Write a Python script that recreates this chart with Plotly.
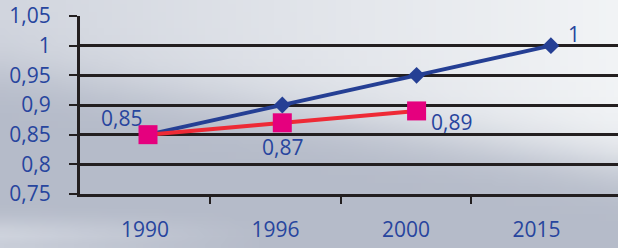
import struct, zlib, base64, math
import plotly.graph_objects as go

years = ["1990", "1996", "2000", "2015"]
blue_values = [0.85, 0.90, 0.95, 1.00]
red_years = ["1990", "1996", "2000"]
red_values = [0.85, 0.87, 0.89]
label_texts = ["0,85", "0,87", "0,89", "1"]
ytick_vals = [0.75, 0.80, 0.85, 0.90, 0.95, 1.00, 1.05]
ytick_text = ["0,75", "0,8", "0,85", "0,9", "0,95", "1", "1,05"]

W, H = 618, 248
L, R, T, B = 80, 0, 16, 54
PW, PH = W - L - R, H - T - B

BLUE_TXT = "#27459E"
BLUE_LINE = "#253F94"
RED_LINE = "#EE2A36"
MAGENTA = "#E5007E"
BLACK = "#231F20"


def background_uri(w=80, h=32):
    light_l = (210, 214, 223)
    light_r = (242, 244, 246)
    dark = (181, 187, 201)
    streak = (214, 218, 227)
    rows = []
    for j in range(h):
        v = (j + 0.5) / h
        row = bytearray()
        for i in range(w):
            u = (i + 0.5) / w
            lt = [a + (b - a) * u for a, b in zip(light_l, light_r)]
            boundary = 0.28 + 0.38 * u
            t = 1 / (1 + math.exp(-(v - boundary) / 0.06))
            c = [a + (b - a) * t for a, b in zip(lt, dark)]
            s = math.exp(-((v - 0.95) / 0.07) ** 2) * max(0.0, 1 - u / 0.45) * 0.8
            c = [a + (b - a) * s for a, b in zip(c, streak)]
            row += bytes(int(max(0, min(255, x))) for x in c)
        rows.append(b"\x00" + bytes(row))
    raw = b"".join(rows)

    def chunk(tag, data):
        return struct.pack(">I", len(data)) + tag + data + struct.pack(">I", zlib.crc32(tag + data) & 0xFFFFFFFF)

    png = (b"\x89PNG\r\n\x1a\n"
           + chunk(b"IHDR", struct.pack(">IIBBBBB", w, h, 8, 2, 0, 0, 0))
           + chunk(b"IDAT", zlib.compress(raw, 9))
           + chunk(b"IEND", b""))
    return "data:image/png;base64," + base64.b64encode(png).decode()


fig = go.Figure()
# empty helper trace so the labelled category axis (x) is rendered
fig.add_trace(go.Scatter(
    x=list(range(len(years))), y=[None] * len(years), xaxis="x", yaxis="y",
    mode="lines", hoverinfo="skip", showlegend=False,
))
fig.add_trace(go.Scatter(
    x=years, y=blue_values, mode="lines+markers", xaxis="x2", yaxis="y",
    line=dict(color=BLUE_LINE, width=4),
    marker=dict(symbol="diamond", size=13, color=BLUE_LINE),
    hoverinfo="skip", showlegend=False,
))
fig.add_trace(go.Scatter(
    x=red_years, y=red_values, mode="lines+markers", xaxis="x2", yaxis="y",
    line=dict(color=RED_LINE, width=4),
    marker=dict(symbol="square", size=19, color=MAGENTA),
    hoverinfo="skip", showlegend=False,
))

label_points = [("1990", 0.85, -27, 17), ("1996", 0.87, 0, -24),
                ("2000", 0.89, 35, -11), ("2015", 1.00, 23, 12)]
for (yr, val, dx, dy), txt in zip(label_points, label_texts):
    fig.add_annotation(x=years.index(yr), y=val, xref="x2", yref="y", text=txt,
                       showarrow=False, xshift=dx, yshift=dy,
                       font=dict(family="Open Sans", size=21, color=BLUE_TXT))

# label axis: category width ~130.5 px, first centre at 145 px
lab_scale = 130.5
lab_left = -(145 - L) / lab_scale
# data axis: category width ~134.3 px, first centre at 148 px
dat_scale = 134.3
dat_left = -(148 - L) / dat_scale

fig.update_layout(
    width=W, height=H,
    margin=dict(l=L, r=R, t=T, b=B, pad=0),
    paper_bgcolor="#C4C9D4", plot_bgcolor="rgba(0,0,0,0)",
    font=dict(family="Open Sans", size=21, color=BLUE_TXT),
    xaxis=dict(
        type="linear",
        range=[lab_left, lab_left + PW / lab_scale],
        tickmode="array", tickvals=list(range(len(years))), ticktext=years,
        ticks="", showgrid=False, zeroline=False,
        showline=True, linecolor=BLACK, linewidth=2.5,
        tickfont=dict(family="Open Sans", size=21, color=BLUE_TXT),
        ticklabelstandoff=15,
        minor=dict(tickmode="array", tickvals=[i + 0.5 for i in range(len(years) - 1)],
                   ticks="outside", ticklen=7, tickwidth=2, tickcolor=BLACK, showgrid=False),
        fixedrange=True,
    ),
    xaxis2=dict(
        type="category", overlaying="x", anchor="y", side="bottom",
        range=[dat_left, dat_left + PW / dat_scale],
        showticklabels=False, ticks="", showgrid=False, zeroline=False, showline=False,
        fixedrange=True,
    ),
    yaxis=dict(
        range=[0.75, 1.05], tickmode="array", tickvals=ytick_vals, ticktext=ytick_text,
        ticks="outside", ticklen=8, tickwidth=2, tickcolor=BLACK,
        showgrid=True, gridcolor=BLACK, gridwidth=2.5, zeroline=False,
        showline=True, linecolor=BLACK, linewidth=3,
        tickfont=dict(family="Open Sans", size=21, color=BLUE_TXT),
        ticklabelstandoff=14,
        fixedrange=True,
    ),
    images=[dict(source=background_uri(), xref="paper", yref="paper",
                 x=-L / PW, y=1 + T / PH, sizex=W / PW, sizey=H / PH,
                 xanchor="left", yanchor="top", sizing="stretch", layer="below")],
)

fig.write_html("out.html", config={"displayModeBar": False},
               post_script="document.body.style.margin='0';document.body.style.overflow='hidden';")
